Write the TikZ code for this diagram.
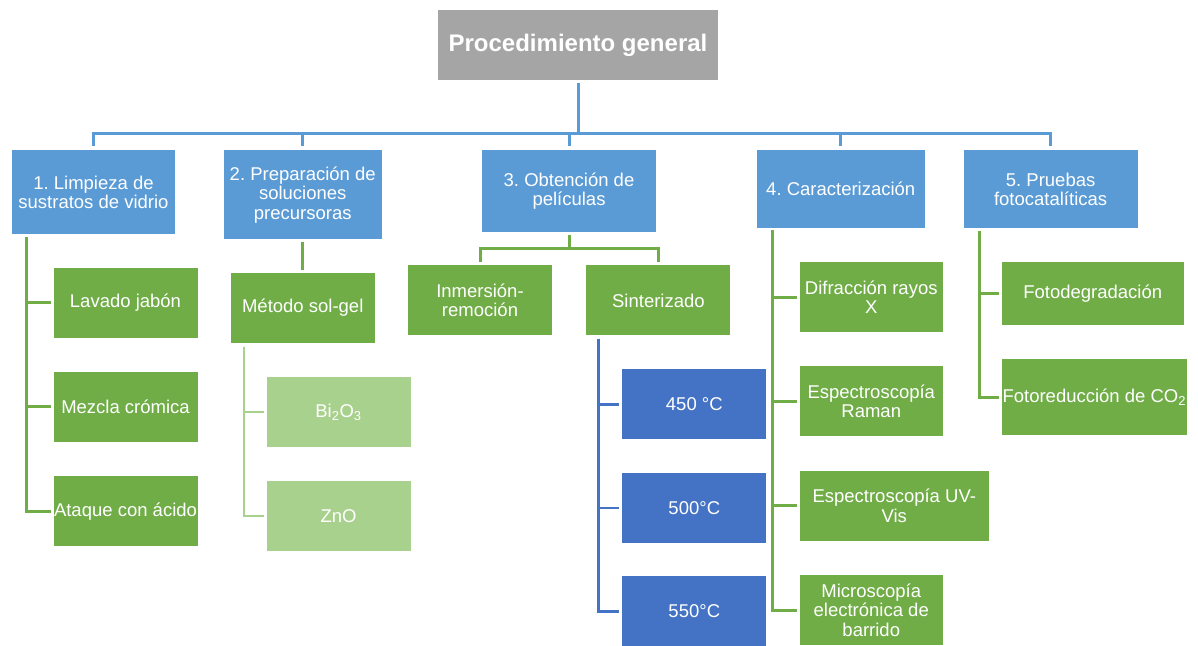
\documentclass[tikz,border=0pt]{standalone}
\usepackage{fontspec}
\setmainfont{Liberation Sans}
\usepackage{tikz}
\usetikzlibrary{positioning}
\definecolor{stageblue}{RGB}{91,155,213}
\definecolor{taskgreen}{RGB}{112,173,71}
\definecolor{oxidegreen}{RGB}{169,209,142}
\definecolor{tempblue}{RGB}{68,114,196}
\definecolor{titlegray}{RGB}{165,165,165}
\frenchspacing

\begin{document}
\begin{tikzpicture}
    [x=1pt,y=-1pt,
    box/.style={rectangle,text=white,align=center,inner sep=0pt,font=\fontsize{18.5}{19.5}\selectfont},
    stage/.style={box,fill=stageblue,minimum height=78pt,anchor=north},
    task/.style={box,fill=taskgreen,minimum width=144pt,minimum height=70pt},
    oxide/.style={box,fill=oxidegreen,minimum width=144pt,minimum height=70pt},
    temp/.style={box,fill=tempblue,minimum width=144pt,minimum height=70pt},
    busline/.style={line width=3pt,stageblue},
    taskline/.style={line width=3pt,taskgreen},
    oxideline/.style={line width=2pt,oxidegreen},
    templine/.style={line width=2.6pt,tempblue}]
    \useasboundingbox (0,0) rectangle (1198,645);
    \node [rectangle,fill=titlegray,text=white,minimum width=280pt,minimum height=70pt,font=\fontsize{24}{28}\selectfont\bfseries] (Title) at (578,45) {Procedimiento general};
    \node [stage,minimum width=163pt,minimum height=84pt] (Limpieza) at (93.5,150) {1. Limpieza de\\sustratos de vidrio};
    \node [stage,minimum width=157.5pt,minimum height=89pt] (Preparacion) at (302.75,150) {2. Preparación de\\soluciones\\precursoras};
    \node [stage,minimum width=174pt,minimum height=82pt] (Obtencion) at (569,150) {3. Obtención de\\películas};
    \node [stage,minimum width=167.5pt] (Caracterizacion) at (840.75,150) {4. Caracterización};
    \node [stage,minimum width=174pt] (Pruebas) at (1050.6,150) {5. Pruebas\\fotocatalíticas};
    \node [task] (Lavado) at (125.5,302.5) {Lavado jabón};
    \node [task,below=34pt of Lavado] (Mezcla) {Mezcla crómica};
    \node [task,below=34pt of Mezcla] (Ataque) {Ataque con ácido};
    \node [task,minimum height=70.6pt] (SolGel) at (302.75,308) {Método sol-gel};
    \node [oxide] (BiO) at (338.5,412) {Bi\textsubscript{2}O\textsubscript{3}};
    \node [oxide,below=34pt of BiO] (ZnO) {ZnO};
    \node [task] (Inmersion) at (480,300.4) {Inmersión-\\remoción};
    \node [task,right=34pt of Inmersion] (Sinterizado) {Sinterizado};
    \node [temp] (T450) at (694.3,404.4) {450 °C};
    \node [temp,below=33pt of T450] (T500) {500°C};
    \node [temp,below=33pt of T500] (T550) {550°C};
    \node [task,minimum width=143.5pt] (Difraccion) at (871.25,297) {Difracción rayos\\X};
    \node [task,minimum width=143.5pt,below=34pt of Difraccion] (Raman) {Espectroscopía\\Raman};
    \node [task,minimum width=189.5pt,below=34pt of Raman.south west,anchor=north west] (UVVis) {Espectroscopía UV-\\Vis};
    \node [task,minimum width=143.5pt,below=34pt of UVVis.south west,anchor=north west] (Microscopia) {Microscopía\\electrónica de\\barrido};
    \node [task,minimum width=181.5pt,minimum height=63pt] (Fotodegradacion) at (1092.75,293.5) {Fotodegradación};
    \node [task,minimum width=184.6pt,minimum height=76pt,below=34pt of Fotodegradacion.south west,anchor=north west] (Fotoreduccion) {Fotoreducción de CO\textsubscript{2}};
    \coordinate (Bus) at (578,133);
    \draw[busline,shorten <=3pt] (Title) -- (Bus);
    \foreach \n in {Limpieza,Preparacion,Obtencion,Caracterizacion,Pruebas}
        \draw[busline,shorten >=4pt] (Bus) -| (\n.north);
    \foreach \n in {Lavado,Mezcla,Ataque}
        \draw[taskline,shorten >=2.5pt] ([xshift=15pt,yshift=-3pt]Limpieza.south west) |- (\n.west);
    \draw[taskline,shorten <=3pt,shorten >=3pt] (Preparacion) -- (SolGel);
    \foreach \n in {BiO,ZnO}
        \draw[oxideline,shorten >=2.5pt] ([xshift=13pt,yshift=-3pt]SolGel.south west) |- (\n.west);
    \coordinate [below=16pt of Obtencion.south] (Split);
    \draw[taskline,shorten <=3pt] (Obtencion) -- (Split);
    \foreach \n in {Inmersion,Sinterizado}
        \draw[taskline,shorten >=3pt] (Split) -| (\n.north);
    \foreach \n in {T450,T500,T550}
        \draw[templine,shorten >=3pt] ([xshift=12.5pt,yshift=-3pt]Sinterizado.south west) |- (\n.west);
    \foreach \n in {Difraccion,Raman,UVVis,Microscopia}
        \draw[taskline,shorten >=2.5pt] ([xshift=15.4pt,yshift=-2pt]Caracterizacion.south west) |- (\n.west);
    \foreach \n in {Fotodegradacion,Fotoreduccion}
        \draw[taskline,shorten >=2.5pt] ([xshift=16.5pt,yshift=-3pt]Pruebas.south west) |- (\n.west);
\end{tikzpicture}
\end{document}
